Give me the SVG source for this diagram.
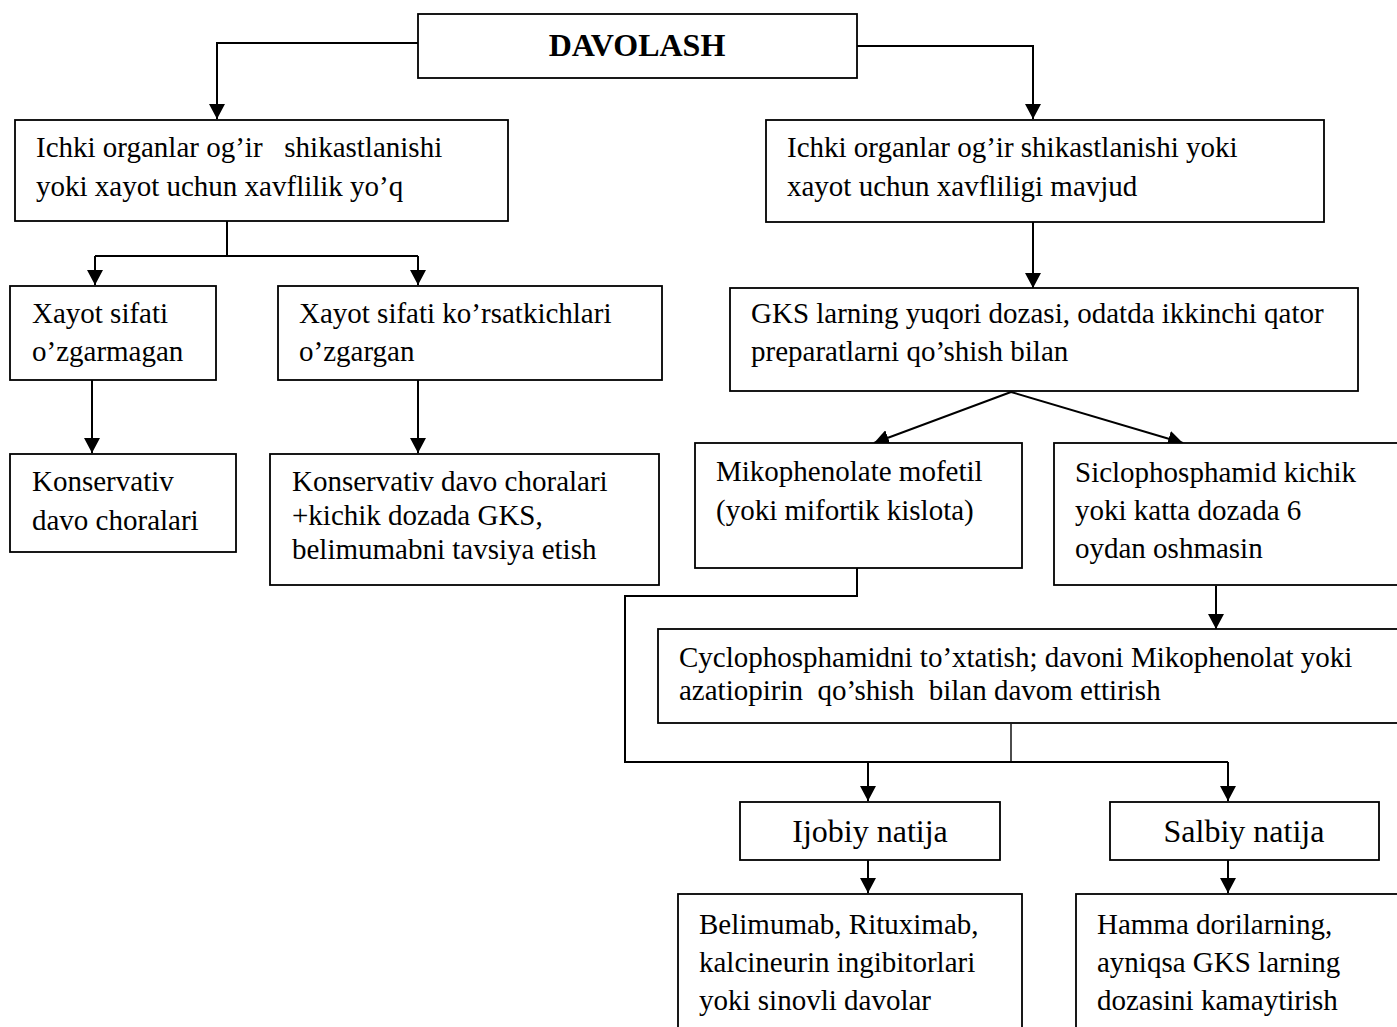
<svg xmlns="http://www.w3.org/2000/svg" width="1397" height="1027" viewBox="0 0 1397 1027">
<style>
.box{fill:#fff;stroke:#000;stroke-width:1.8}
.t{font-family:"Liberation Serif","Times New Roman",serif;font-size:29px;fill:#000;white-space:pre}
.big{font-size:32px}
.b{font-weight:bold}
.c{fill:none;stroke:#000;stroke-width:2}
.thin{stroke-width:1.4}
</style>
<defs>
<marker id="ah" viewBox="0 0 15 16" refX="15" refY="8" markerWidth="15" markerHeight="16" markerUnits="userSpaceOnUse" orient="auto">
<path d="M0,0 L15,8 L0,16 z" fill="#000"/>
</marker>
</defs>
<rect width="1397" height="1027" fill="#fff"/>
<g id="connectors">
<path class="c" d="M418,43 H217 V119" marker-end="url(#ah)"/>
<path class="c" d="M857,46 H1033 V119" marker-end="url(#ah)"/>
<path class="c" d="M227,221 V256 M95,256 H418"/>
<path class="c" d="M95,256 V285" marker-end="url(#ah)"/>
<path class="c" d="M418,256 V285" marker-end="url(#ah)"/>
<path class="c" d="M92,380 V453" marker-end="url(#ah)"/>
<path class="c" d="M418,380 V453" marker-end="url(#ah)"/>
<path class="c" d="M1033,222 V288" marker-end="url(#ah)"/>
<path class="c" d="M1011,392 L874,443" marker-end="url(#ah)"/>
<path class="c" d="M1011,392 L1183,443" marker-end="url(#ah)"/>
<path class="c" d="M857,568 V596 H625 V762 H1228"/>
<path class="c" d="M868,762 V801" marker-end="url(#ah)"/>
<path class="c" d="M1228,762 V801" marker-end="url(#ah)"/>
<path class="c" d="M1216,586 V629" marker-end="url(#ah)"/>
<path class="c thin" d="M1011,724 V762"/>
<path class="c" d="M868,860 V893" marker-end="url(#ah)"/>
<path class="c" d="M1228,860 V893" marker-end="url(#ah)"/>
</g>
<g id="n-title"><rect class="box" x="418" y="14" width="439" height="64"/><text class="t big b" x="637" y="56" text-anchor="middle">DAVOLASH</text></g>
<g id="n-a"><rect class="box" x="15" y="120" width="493" height="101"/><text class="t" x="36" y="157">Ichki organlar og’ir   shikastlanishi</text><text class="t" x="36" y="196">yoki xayot uchun xavflilik yo’q</text></g>
<g id="n-f"><rect class="box" x="766" y="120" width="558" height="102"/><text class="t" x="787" y="157">Ichki organlar og’ir shikastlanishi yoki</text><text class="t" x="787" y="196">xayot uchun xavfliligi mavjud</text></g>
<g id="n-b"><rect class="box" x="10" y="286" width="206" height="94"/><text class="t" x="32" y="323">Xayot sifati</text><text class="t" x="32" y="361">o’zgarmagan</text></g>
<g id="n-c"><rect class="box" x="278" y="286" width="384" height="94"/><text class="t" x="299" y="323">Xayot sifati ko’rsatkichlari</text><text class="t" x="299" y="361">o’zgargan</text></g>
<g id="n-g"><rect class="box" x="730" y="288" width="628" height="103"/><text class="t" x="751" y="323">GKS larning yuqori dozasi, odatda ikkinchi qator</text><text class="t" x="751" y="361">preparatlarni qo’shish bilan</text></g>
<g id="n-d"><rect class="box" x="10" y="454" width="226" height="98"/><text class="t" x="32" y="491">Konservativ</text><text class="t" x="32" y="530">davo choralari</text></g>
<g id="n-e"><rect class="box" x="270" y="454" width="389" height="131"/><text class="t" x="292" y="491">Konservativ davo choralari</text><text class="t" x="292" y="525">+kichik dozada GKS,</text><text class="t" x="292" y="559">belimumabni tavsiya etish</text></g>
<g id="n-h"><rect class="box" x="695" y="443" width="327" height="125"/><text class="t" x="716" y="481">Mikophenolate mofetil</text><text class="t" x="716" y="520">(yoki mifortik kislota)</text></g>
<g id="n-i"><rect class="box" x="1054" y="443" width="360" height="142"/><text class="t" x="1075" y="482">Siclophosphamid kichik</text><text class="t" x="1075" y="520">yoki katta dozada 6</text><text class="t" x="1075" y="558">oydan oshmasin</text></g>
<g id="n-j"><rect class="box" x="658" y="629" width="756" height="94"/><text class="t" x="679" y="667">Cyclophosphamidni to’xtatish; davoni Mikophenolat yoki</text><text class="t" x="679" y="700">azatiopirin  qo’shish  bilan davom ettirish</text></g>
<g id="n-k"><rect class="box" x="740" y="802" width="260" height="58"/><text class="t big" x="870" y="842" text-anchor="middle">Ijobiy natija</text></g>
<g id="n-l"><rect class="box" x="1110" y="802" width="269" height="58"/><text class="t big" x="1244" y="842" text-anchor="middle">Salbiy natija</text></g>
<g id="n-m"><rect class="box" x="678" y="894" width="344" height="140"/><text class="t" x="699" y="934">Belimumab, Rituximab,</text><text class="t" x="699" y="972">kalcineurin ingibitorlari</text><text class="t" x="699" y="1010">yoki sinovli davolar</text></g>
<g id="n-n"><rect class="box" x="1076" y="894" width="340" height="140"/><text class="t" x="1097" y="934">Hamma dorilarning,</text><text class="t" x="1097" y="972">ayniqsa GKS larning</text><text class="t" x="1097" y="1010">dozasini kamaytirish</text></g>
</svg>
